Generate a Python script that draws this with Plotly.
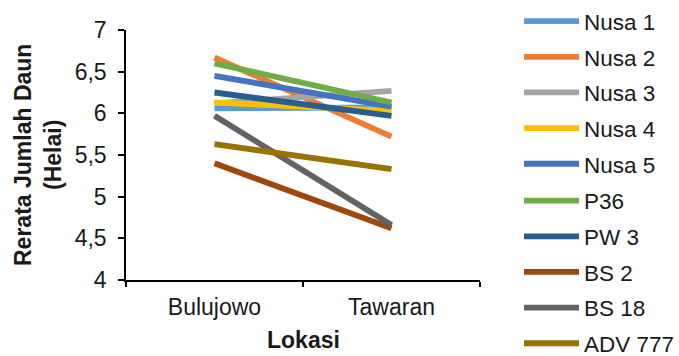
import plotly.graph_objects as go

lokasi = ["Bulujowo", "Tawaran"]
series_names = ["Nusa 1", "Nusa 2", "Nusa 3", "Nusa 4", "Nusa 5", "P36", "PW 3", "BS 2", "BS 18", "ADV 777"]
nusa1 = [6.06, 6.07]
nusa2 = [6.67, 5.72]
nusa3 = [6.12, 6.27]
nusa4 = [6.13, 6.03]
nusa5 = [6.45, 6.08]
p36 = [6.60, 6.13]
pw3 = [6.25, 5.97]
bs2 = [5.40, 4.62]
bs18 = [5.97, 4.66]
adv777 = [5.63, 5.33]
values = [nusa1, nusa2, nusa3, nusa4, nusa5, p36, pw3, bs2, bs18, adv777]
colors = ["#5B9BD5", "#ED7D31", "#A5A5A5", "#FFC000", "#4472C4",
          "#70AD47", "#255E91", "#9E480E", "#636363", "#997300"]
y_ticks = [4, 4.5, 5, 5.5, 6, 6.5, 7]

FONT = "Liberation Sans, Arial, sans-serif"
TXT = "#1a1a1a"

fig = go.Figure()
for i, (name, vals, col) in enumerate(zip(series_names, values, colors)):
    fig.add_trace(go.Scatter(
        x=lokasi, y=vals, name=name, mode="lines",
        line=dict(color=col, width=5.8),
        legendgroup=name,
        legend="legend" if i < 5 else "legend2",
    ))

leg_common = dict(
    xref="container", yref="container",
    xanchor="left", yanchor="top",
    tracegroupgap=3.4, itemwidth=55, maxheight=1,
    font=dict(family=FONT, size=22.5, color=TXT),
    bgcolor="rgba(0,0,0,0)",
)

fig.update_layout(
    width=679, height=356,
    margin=dict(l=126, r=199, t=30, b=76),
    paper_bgcolor="white", plot_bgcolor="white",
    separators=", ",
    font=dict(family=FONT, size=22, color=TXT),
    showlegend=True,
    legend=dict(x=519/679, y=1.0, **leg_common),
    legend2=dict(x=519/679, y=1 - 179.5/356, **leg_common),
)
fig.update_xaxes(
    type="category", range=[-0.5, 1.5],
    showline=True, linecolor="black", linewidth=1.5,
    ticks="outside", ticklen=5, tickcolor="black", tickwidth=1.5,
    tickson="boundaries", showgrid=False, zeroline=False,
    ticklabelstandoff=6,
    tickfont=dict(family=FONT, size=23, color=TXT),
)
fig.update_yaxes(
    range=[4, 7], tickvals=y_ticks,
    showline=True, linecolor="black", linewidth=1.5,
    ticks="outside", ticklen=6, tickcolor="black", tickwidth=1.5,
    showgrid=False, zeroline=False,
    ticklabelstandoff=7,
    tickfont=dict(family=FONT, size=23, color=TXT),
)
fig.add_annotation(
    text="<b>Rerata Jumlah Daun<br>(Helai)</b>", textangle=-90,
    xref="paper", yref="paper", x=0, y=0.5, xanchor="center", yanchor="middle",
    xshift=-88, showarrow=False,
    font=dict(family=FONT, size=23, color=TXT),
)
fig.add_annotation(
    text="<b>Lokasi</b>",
    xref="paper", yref="paper", x=0.5, y=0, xanchor="center", yanchor="middle",
    yshift=-60, showarrow=False,
    font=dict(family=FONT, size=23, color=TXT),
)
fig.write_html("out.html")
